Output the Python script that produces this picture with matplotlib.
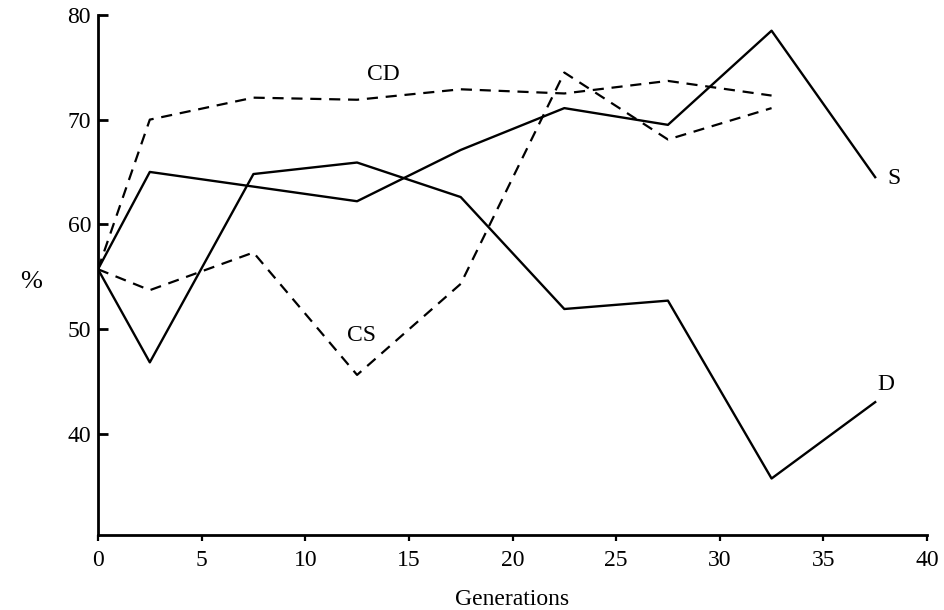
import matplotlib.pyplot as plt

plt.rcParams['font.family'] = ['Liberation Serif', 'DejaVu Serif']

gens = [0, 2.5, 7.5, 12.5, 17.5, 22.5, 27.5, 32.5, 37.5]
s_vals = [55.7, 65.0, 63.6, 62.2, 67.1, 71.1, 69.5, 78.5, 64.5]
d_vals = [55.7, 46.8, 64.8, 65.9, 62.6, 51.9, 52.7, 35.7, 43.0]

gens_c = [0, 2.5, 7.5, 12.5, 17.5, 22.5, 27.5, 32.5]
cd_vals = [55.7, 70.0, 72.1, 71.9, 72.9, 72.5, 73.7, 72.3]
cs_vals = [55.7, 53.7, 57.3, 45.6, 54.3, 74.5, 68.1, 71.1]

# the S line has no vertex at 7.5 in the picture
s_x = [g for g in gens if g != 7.5]
s_y = [v for g, v in zip(gens, s_vals) if g != 7.5]

fig = plt.figure(figsize=(9.45, 6.10), dpi=100)
ax = fig.add_axes([98 / 945, 75 / 610, 829 / 945, 520 / 610])

dash = (0, (5, 3.5))
ax.plot(s_x, s_y, color='black', lw=1.7)
ax.plot(gens, d_vals, color='black', lw=1.7)
ax.plot(gens_c, cd_vals, color='black', lw=1.6, linestyle=dash)
ax.plot(gens_c, cs_vals, color='black', lw=1.6, linestyle=dash)

lab_fs = 17
ax.text(13.0, 74.3, 'CD', fontsize=lab_fs, va='center', ha='left')
ax.text(12.0, 49.4, 'CS', fontsize=lab_fs, va='center', ha='left')
ax.text(38.1, 64.4, 'S', fontsize=lab_fs, va='center', ha='left')
ax.text(37.6, 44.7, 'D', fontsize=lab_fs, va='center', ha='left')

ax.set_xlim(0, 40)
ax.set_ylim(30.3, 80)
ax.set_xticks(range(0, 41, 5))
ax.set_yticks([40, 50, 60, 70, 80])

for side in ['top', 'right']:
    ax.spines[side].set_visible(False)
for side in ['left', 'bottom']:
    ax.spines[side].set_linewidth(2.0)

ax.tick_params(axis='y', direction='in', length=7, width=2.0, pad=5, labelsize=17)
ax.tick_params(axis='x', direction='out', length=4, width=1.6, pad=7, labelsize=17)

ax.set_xlabel('Generations', fontsize=17, labelpad=13)
fig.text(20 / 945, 1 - 282 / 610, '%', fontsize=19, va='center', ha='left')

plt.savefig('out.png', dpi=100)
